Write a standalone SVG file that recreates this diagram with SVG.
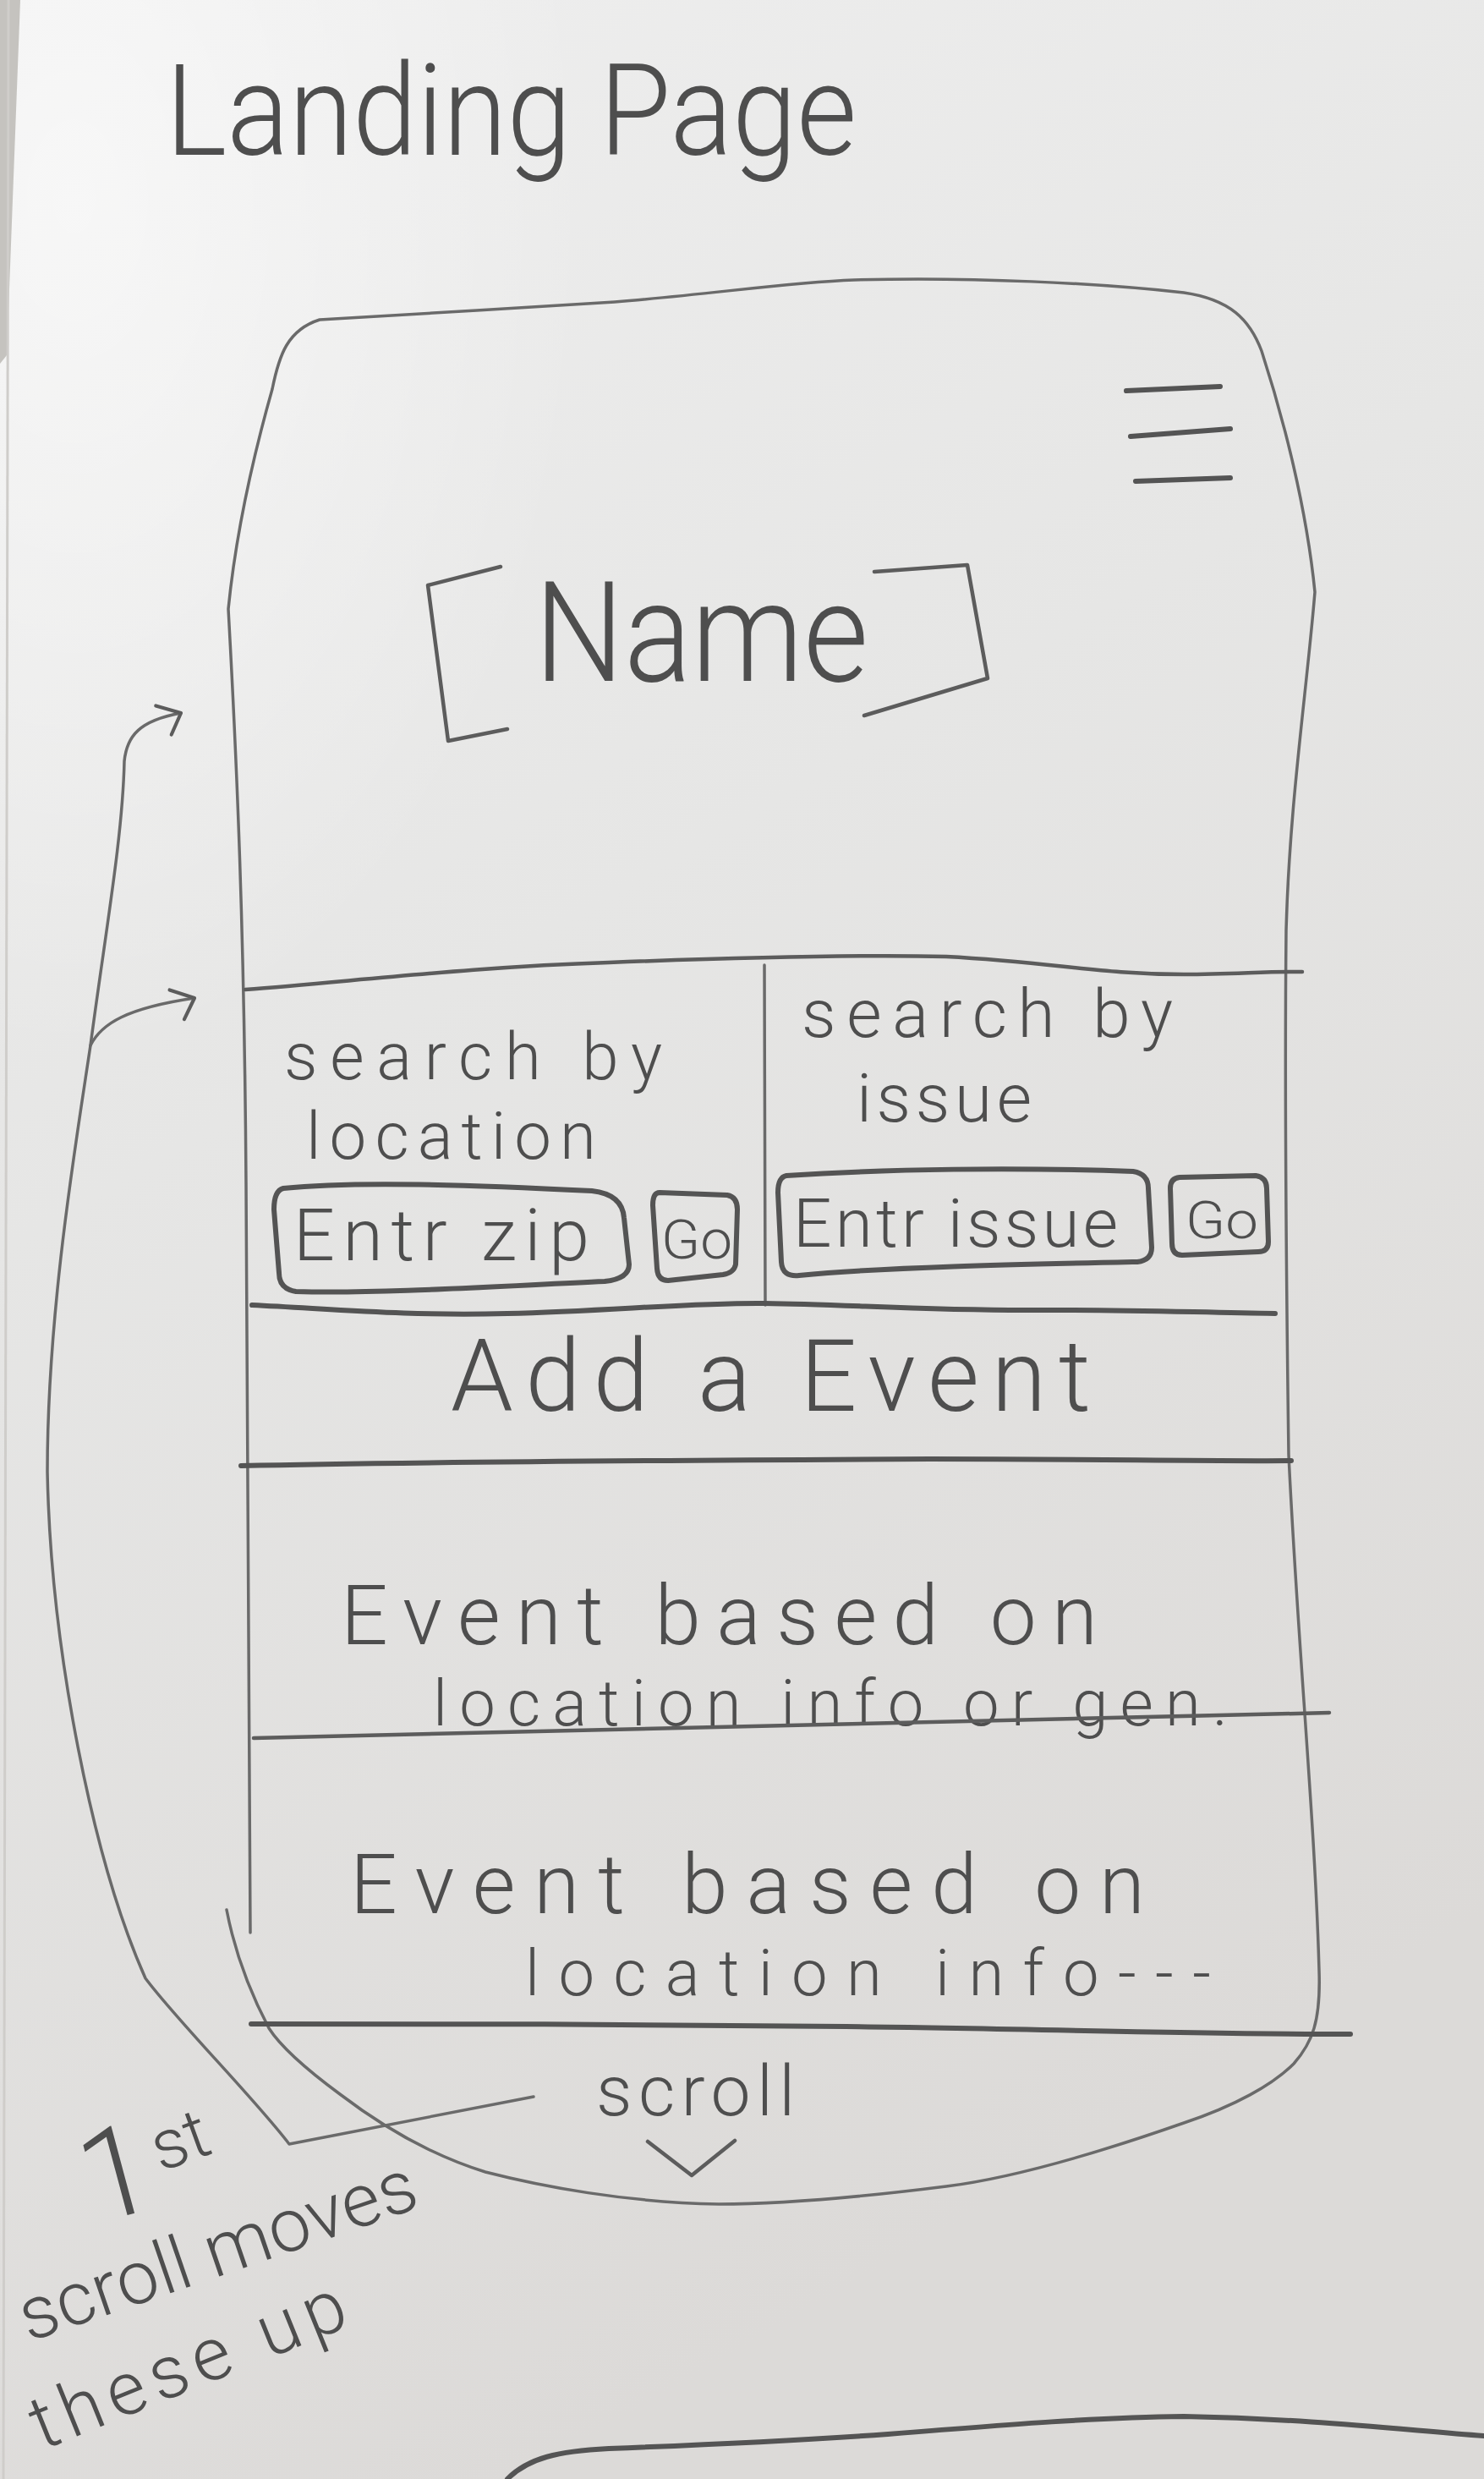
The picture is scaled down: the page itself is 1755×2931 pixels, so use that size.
<svg xmlns="http://www.w3.org/2000/svg" width="1755" height="2931" viewBox="0 0 1755 2931">
  <defs>
    <linearGradient id="paper" x1="0" y1="0" x2="0.35" y2="1">
      <stop offset="0" stop-color="#efefef"/>
      <stop offset="0.45" stop-color="#e6e6e5"/>
      <stop offset="1" stop-color="#dcdad8"/>
    </linearGradient>
    <radialGradient id="glare" cx="0.05" cy="0.08" r="0.35">
      <stop offset="0" stop-color="#ffffff" stop-opacity="0.55"/>
      <stop offset="1" stop-color="#ffffff" stop-opacity="0"/>
    </radialGradient>
    <marker id="head" markerUnits="userSpaceOnUse" orient="auto" markerWidth="60" markerHeight="60" viewBox="-40 -30 50 65" refX="0" refY="0" overflow="visible">
      <path class="pen" d="M-30,-15 L0,0 L-17,25"/>
    </marker>
    <style>
      .pen { fill: none; stroke: #5c5c5c; stroke-width: 4.5; stroke-linecap: round; stroke-linejoin: round; }
      .thin { stroke-width: 3.5; stroke: #6a6a6a; }
      .bold { stroke-width: 6; stroke: #545454; }
      .hand { font-family: Roboto, "Open Sans", "Liberation Sans", sans-serif; font-weight: 300; fill: #4e4e4e; }
    </style>
  </defs>

  <!-- paper -->
  <rect x="0" y="0" width="1755" height="2931" fill="url(#paper)"/>
  <rect x="0" y="0" width="1755" height="2931" fill="url(#glare)"/>
  <path d="M0,0 L24,0 L8,420 L0,430 Z" fill="#b9b6b1" opacity="0.8"/>
  <path d="M10,0 L4,2931" stroke="#cfcdca" stroke-width="3" fill="none"/>

  <!-- title -->
  <g id="title">
    <text class="hand" x="196" y="183" font-size="150" textLength="817" lengthAdjust="spacingAndGlyphs">Landing Page</text>
  </g>

  <!-- phone frame -->
  <g id="phone">
    <path class="pen thin" d="M296,2285 C295,2000 293,1700 291,1400 C289,1100 280,900 270,720 C280,620 305,520 322,460 C330,420 340,390 378,378 C480,372 620,364 727,357 C840,348 930,334 1010,331 C1150,327 1300,335 1400,346 C1455,354 1478,378 1492,415 C1518,495 1545,600 1555,700 C1545,820 1525,950 1521,1100 C1519,1300 1521,1500 1524,1720 C1535,1950 1555,2150 1560,2330 C1562,2390 1552,2415 1530,2440 C1505,2465 1460,2490 1400,2510 C1300,2545 1200,2575 1119,2585 C1000,2600 920,2606 850,2606 C740,2604 640,2585 574,2568 C500,2545 440,2505 402,2476 C360,2445 332,2420 318,2398 C298,2360 278,2310 268,2258"/>
  </g>

  <!-- menu icon -->
  <g id="menu">
    <path class="pen bold" d="M1332,462 L1443,457"/>
    <path class="pen bold" d="M1337,516 L1455,507"/>
    <path class="pen bold" d="M1343,569 L1455,565"/>
  </g>

  <!-- site name -->
  <g id="name">
    <path class="pen" d="M592,670 L506,692 L530,876 L600,862"/>
    <path class="pen" d="M1034,676 L1144,668 L1168,802 L1022,846"/>
    <text class="hand" x="632" y="805" font-size="165" textLength="395" lengthAdjust="spacingAndGlyphs">Name</text>
  </g>

  <!-- search row -->
  <g id="search-row">
    <path class="pen" d="M290,1170 C420,1160 560,1143 720,1138 C850,1133 1000,1128 1119,1131 C1250,1138 1300,1152 1400,1152 C1460,1152 1500,1148 1540,1149"/>
    <path class="pen thin" d="M904,1141 L905,1543"/>
    <path class="pen bold" d="M298,1543 C400,1548 480,1556 600,1553 C720,1550 820,1540 904,1541 C1000,1542 1100,1550 1230,1549 C1330,1548 1420,1552 1508,1553"/>
  </g>

  <g id="search-location">
    <text class="hand" x="336" y="1276" font-size="78" textLength="447" lengthAdjust="spacing">search by</text>
    <text class="hand" x="362" y="1370" font-size="78" textLength="343" lengthAdjust="spacing">location</text>
    <path class="pen bold" d="M335,1405 C420,1396 560,1401 700,1408 Q736,1412 738,1440 L744,1495 Q744,1512 715,1515 C600,1520 450,1530 350,1527 Q330,1524 330,1505 L324,1430 Q324,1408 335,1405 Z"/>
    <text class="hand" x="347" y="1490" font-size="86" textLength="350" lengthAdjust="spacing">Entr zip</text>
    <path class="pen bold" d="M780,1410 L860,1413 Q872,1415 872,1430 L870,1495 Q868,1505 855,1507 L790,1514 Q778,1514 777,1500 L772,1425 Q772,1410 780,1410 Z"/>
    <text class="hand" x="782" y="1488" font-size="64" textLength="84" lengthAdjust="spacingAndGlyphs">Go</text>
  </g>

  <g id="search-issue">
    <text class="hand" x="948" y="1226" font-size="80" textLength="439" lengthAdjust="spacing">search by</text>
    <text class="hand" x="1013" y="1326" font-size="80" textLength="207" lengthAdjust="spacing">issue</text>
    <path class="pen bold" d="M930,1390 C1050,1382 1200,1380 1340,1385 Q1358,1388 1358,1405 L1362,1475 Q1362,1490 1345,1492 C1200,1495 1050,1498 945,1508 Q925,1510 924,1492 L920,1410 Q920,1392 930,1390 Z"/>
    <text class="hand" x="938" y="1474" font-size="80" textLength="384" lengthAdjust="spacing">Entr issue</text>
    <path class="pen bold" d="M1395,1392 L1485,1390 Q1498,1392 1498,1405 L1500,1468 Q1500,1480 1488,1480 L1398,1484 Q1386,1484 1386,1470 L1384,1405 Q1384,1393 1395,1392 Z"/>
    <text class="hand" x="1402" y="1464" font-size="62" textLength="86" lengthAdjust="spacingAndGlyphs">Go</text>
  </g>

  <!-- add event row -->
  <g id="add-event">
    <text class="hand" x="533" y="1668" font-size="118" textLength="757" lengthAdjust="spacing">Add a Event</text>
    <path class="pen bold" d="M285,1733 C500,1728 900,1726 1100,1725 C1300,1725 1420,1728 1527,1727"/>
  </g>

  <!-- event cards -->
  <g id="event-1">
    <text class="hand" x="403" y="1944" font-size="98" textLength="895" lengthAdjust="spacing">Event based on</text>
    <text class="hand" x="512" y="2040" font-size="76" textLength="940" lengthAdjust="spacing">location info or gen.</text>
    <path class="pen" d="M300,2055 C600,2048 1000,2040 1572,2025"/>
  </g>

  <g id="event-2">
    <text class="hand" x="414" y="2262" font-size="98" textLength="940" lengthAdjust="spacing">Event based on</text>
    <text class="hand" x="621" y="2359" font-size="76" textLength="811" lengthAdjust="spacing">location info---</text>
    <path class="pen bold" d="M297,2393 C500,2392 800,2394 1000,2396 C1200,2398 1400,2405 1597,2405"/>
  </g>

  <!-- scroll hint -->
  <g id="scroll">
    <text class="hand" x="705" y="2501" font-size="84" textLength="235" lengthAdjust="spacing">scroll</text>
    <path class="pen" d="M766,2532 L818,2572 L869,2531"/>
  </g>

  <!-- margin note -->
  <g id="note">
    <text class="hand" transform="translate(110,2630) rotate(-15)" font-size="150">1</text>
    <text class="hand" transform="translate(190,2568) rotate(-20)" font-size="82">st</text>
    <text class="hand" transform="translate(34,2769) rotate(-19)" font-size="88" textLength="492" lengthAdjust="spacing">scroll moves</text>
    <text class="hand" transform="translate(50,2897) rotate(-22)" font-size="88" textLength="395" lengthAdjust="spacing">these up</text>
  </g>

  <!-- arrows from the note up to the sections -->
  <g id="connectors">
    <path class="pen thin" marker-end="url(#head)" d="M631,2479 L342,2535 C300,2480 210,2390 172,2339 C110,2200 60,1950 56,1740 C56,1550 90,1350 107,1236 C125,1100 145,990 147,900 C150,870 165,852 214,843"/>
    <path class="pen thin" marker-end="url(#head)" d="M107,1236 C120,1210 150,1192 230,1180"/>
  </g>

  <!-- edge of the next sheet -->
  <g id="next-sheet">
    <path class="pen bold" d="M600,2931 C625,2906 660,2898 720,2895 C850,2890 950,2885 1050,2878 C1200,2866 1300,2858 1400,2857 C1550,2860 1650,2872 1755,2880"/>
  </g>
</svg>
